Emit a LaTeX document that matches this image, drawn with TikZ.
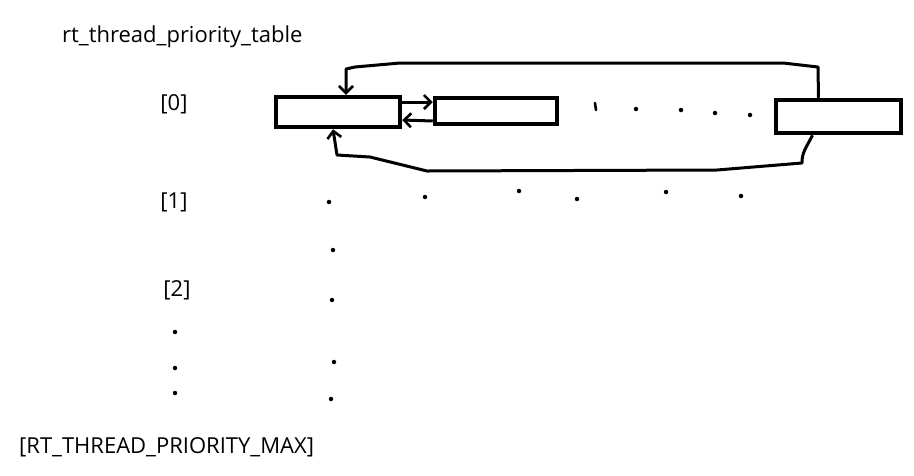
\documentclass[tikz,border=0pt]{standalone}
\usepackage{fontspec}
\setmainfont{Open Sans}
\usetikzlibrary{arrows.meta}
\begin{document}
\begin{tikzpicture}[x=1pt,y=-1pt,
  box/.style={draw,line width=4.5pt,inner sep=0pt,minimum width=#1},
  lbl/.style={inner sep=0pt,font=\fontsize{22}{24}\selectfont},
  conn/.style={line width=3pt,line join=round,-{Straight Barb[length=7pt,width=14pt,line width=2.6pt]}},
  dot/.style={circle,fill,inner sep=0pt,minimum size=4.5pt}]
\useasboundingbox (0,0) rectangle (914,475);
\node[lbl,anchor=west] (title) at (62,37) {rt\_thread\_priority\_table};
\node[lbl] (l0) at (174,104) {[0]};
\node[lbl] (l1) at (174,202) {[1]};
\node[lbl] (l2) at (177,290) {[2]};
\node[lbl,anchor=west] (lmax) at (19,447) {[RT\_THREAD\_PRIORITY\_MAX]};
\node[box=124pt,minimum height=30pt] (b1) at (338,112) {};
\node[box=122pt,minimum height=26pt] (b2) at (496,111) {};
\node[box=125pt,minimum height=33pt] (b3) at (838.5,116.5) {};
% middle arrows
\draw[conn] ([yshift=10pt]b1.east) -- ([yshift=9pt]b2.west);
\draw[conn] ([yshift=-10pt]b2.west) -- ([yshift=-8pt]b1.east);
% top loop
\draw[conn] ([xshift=-20pt]b3.north) -- (818,67) -- (783,63) -- (400,63) -- (355,67) -- (346,69) -- ([xshift=8pt]b1.north);
% bottom loop
\draw[conn] ([xshift=-26pt]b3.south) .. controls (806,148) and (802,152) .. (802,163) -- (717,170) -- (427,171) -- (370,157) -- (337,155) -- ([xshift=-5pt]b1.south);
% dots between boxes
\draw[line width=2.6pt,line cap=round] (595,103) -- (596,110) node[coordinate] (d0) {};
\node[dot] (d1) at (636,109) {};
\node[dot] (d2) at (681,110) {};
\node[dot] (d3) at (715,113) {};
\node[dot] (d4) at (750,115) {};
% row 1 dots
\node[dot] (r1) at (329,202) {};
\node[dot] (r2) at (425,197) {};
\node[dot] (r3) at (519,191) {};
\node[dot] (r4) at (577,199) {};
\node[dot] (r5) at (666,192) {};
\node[dot] (r6) at (741,196) {};
% column dots
\node[dot] (c1) at (333,250) {};
\node[dot] (c2) at (332,300) {};
\node[dot] (c3) at (334,362) {};
\node[dot] (c4) at (331,399) {};
\node[dot] (e1) at (175,332) {};
\node[dot] (e2) at (175,368) {};
\node[dot] (e3) at (175,393) {};
\end{tikzpicture}
\end{document}
